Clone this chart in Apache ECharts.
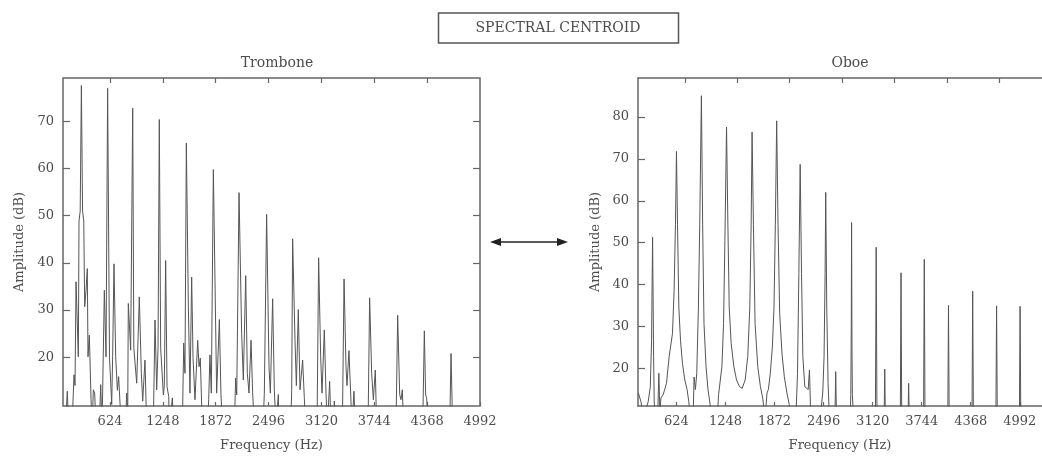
<!DOCTYPE html>
<html>
<head>
<meta charset="utf-8">
<script src="https://cdn.jsdelivr.net/npm/echarts@6/dist/echarts.min.js"></script>
<style>
  html, body { margin: 0; padding: 0; background: #fff; overflow: hidden; }
  #chart { width: 1042px; height: 457px; }
</style>
</head>
<body>
<div id="chart"></div>
<script>
// ---- data: [frequency Hz, amplitude dB] ----
const tromboneSpectrum = [
  [97,5],[120,12.8],[136,5],[175,5],[199,16.3],[211,14],[223,36],[250,20.1],[258,48.9],[272,51],[286,77.6],[300,51],[314,48.9],[325,30.7],[341,34.2],[356,38.8],[364,20.1],[380,24.7],[400,11],[413,5],[427,13.1],[443,12.4],[459,5],
  [498,5],[514,14.2],[530,5],[549,5],[557,34.2],[577,20.1],[596,77],[618,20],[644,10],[655,20.1],[671,39.8],[691,20.1],[711,13],[726,15.9],[742,10.3],[762,5],
  [805,5],[821,12.4],[833,8],[840,31.4],[868,21.5],[892,72.8],[905,22],[939,14.5],[970,32.8],[994,16.6],[1010,10.7],[1037,19.4],[1057,5],
  [1135,5],[1155,27.9],[1175,13.1],[1191,22],[1206,70.4],[1222,22],[1254,12],[1265,14],[1281,40.5],[1297,13.8],[1317,11.7],[1325,5],[1340,5],[1360,11.4],[1376,5],
  [1478,5],[1494,23],[1509,16.6],[1525,65.4],[1549,30.7],[1568,12.4],[1588,37],[1604,20],[1627,11],[1659,23.6],[1675,18],[1690,19.8],[1714,5],
  [1773,5],[1789,11],[1804,20.5],[1820,12.4],[1844,59.8],[1883,12.4],[1915,28],[1934,12],[1954,5],
  [2092,5],[2107,15.6],[2120,12],[2147,54.9],[2178,25],[2198,15.2],[2226,37.3],[2245,16.6],[2265,12.4],[2289,23.6],[2308,12.4],[2328,5],
  [2430,5],[2446,12.4],[2473,50.3],[2501,18],[2517,12.4],[2544,32.4],[2564,13],[2584,5],[2605,5],[2611,12.1],[2619,5],
  [2757,5],[2769,13],[2780,45.1],[2808,23.6],[2824,14],[2847,30.1],[2867,13.1],[2898,19.4],[2918,11.4],[2934,5],
  [3068,5],[3087,41.1],[3111,20.1],[3127,12.4],[3154,25.8],[3174,12.4],[3190,5],[3210,5],[3217,14.9],[3233,5],[3264,5],[3272,10.7],[3288,5],
  [3367,5],[3387,36.6],[3410,18],[3422,14],[3445,21.4],[3465,12.4],[3481,5],[3497,5],[3504,12.8],[3520,5],
  [3670,5],[3689,32.6],[3713,16.6],[3733,11],[3756,17.3],[3772,5],
  [4000,5],[4020,28.9],[4044,12.1],[4059,11],[4075,13.1],[4091,5],
  [4315,5],[4335,25.6],[4350,12],[4362,11.4],[4382,5],
  [4634,5],[4650,20.8],[4669,5]
];

const oboeSpectrum = [
  [139,14.1],[172,12],[206,8],[265,12.1],[291,15.6],[307,26.7],[320,51.3],[333,22.8],[341,11.7],[358,8],
  [384,8],[400,18.8],[413,9],[426,12.9],[455,13.7],[497,16.4],[531,22.8],[548,23.2],[573,28.3],[594,38.6],[611,54.4],[624,71.8],[637,54.4],[654,34.6],[675,26.7],[700,21.2],[730,17.2],[759,14.9],[780,12.1],[801,8],
  [835,8],[848,17.9],[865,14.9],[882,18.8],[903,34.6],[920,54.4],[941,85.1],[957,54.4],[974,30.7],[1000,20.4],[1025,14.9],[1050,11.7],[1067,8],
  [1143,8],[1160,13.7],[1177,14.1],[1202,20.4],[1223,30.7],[1240,50.5],[1261,77.6],[1278,54.4],[1295,34.6],[1320,25.9],[1354,20.4],[1388,17.2],[1426,15.6],[1460,15.2],
  [1498,17.2],[1531,22.8],[1557,34.6],[1574,54.4],[1586,76.4],[1603,54.4],[1624,30.7],[1658,20.4],[1692,15.6],[1721,12.9],[1751,8],
  [1776,14.1],[1793,14.9],[1818,18.8],[1844,25.1],[1865,34.6],[1882,54.4],[1899,79.1],[1916,54.4],[1937,33.1],[1966,23.6],[1996,18.0],[2029,14.1],[2059,11.3],[2080,8],
  [2143,8],[2164,18.8],[2181,42.6],[2198,68.7],[2215,42.6],[2232,22.8],[2257,15.6],[2274,15.2],[2300,14.9],[2316,19.6],[2333,8],
  [2451,8],[2485,14.1],[2502,22.8],[2515,42.6],[2523,62],[2536,34.6],[2553,16.4],[2570,8],
  [2640,8],[2650,19.2],[2660,8],
  [2835,8],[2842,13.7],[2848,30],[2852,54.8],[2857,25],[2862,13.7],[2870,13.5],[2878,8],
  [3155,8],[3165,48.9],[3175,8],
  [3266,8],[3274,19.8],[3282,8],
  [3472,8],[3481,42.8],[3490,8],
  [3570,8],[3578,16.4],[3586,8],
  [3768,8],[3777,46.0],[3786,8],
  [4076,8],[4085,35.0],[4094,8],
  [4384,8],[4393,38.4],[4402,8],
  [4688,8],[4697,34.9],[4706,8],
  [4987,8],[4996,34.8],[5005,8]
];

const freqTicks = [624, 1248, 1872, 2496, 3120, 3744, 4368, 4992];
const topFreqTicks = [624, 1248, 1872, 2496, 3120, 3744, 4368];
const tromboneAmpTicks = [20, 30, 40, 50, 60, 70];
const oboeAmpTicks = [20, 30, 40, 50, 60, 70, 80];

const FONT = 'DejaVu Serif';
const TXT = '#4d4d4d';
const AX = '#666';
const plain = function (v) { return String(v); };

function line(show) {
  return { show: show, onZero: false, lineStyle: { color: AX, width: 1.5 } };
}
function xAxisBottom(grid, min, max, showLine) {
  return {
    type: 'value', gridIndex: grid, position: 'bottom', min: min, max: max,
    axisLine: line(showLine),
    axisTick: { show: true, inside: true, length: 4, customValues: freqTicks, lineStyle: { color: AX, width: 1.2 } },
    axisLabel: { customValues: freqTicks, formatter: plain, margin: 9, color: TXT, fontFamily: FONT, fontSize: 13 },
    splitLine: { show: false },
    name: 'Frequency (Hz)', nameLocation: 'middle', nameGap: 33,
    nameTextStyle: { color: TXT, fontFamily: FONT, fontSize: 13 }
  };
}
function xAxisTop(grid, min, max, showLine) {
  return {
    type: 'value', gridIndex: grid, position: 'top', min: min, max: max,
    axisLine: line(showLine),
    axisTick: { show: true, inside: true, length: 5, customValues: topFreqTicks, lineStyle: { color: AX, width: 1.2 } },
    axisLabel: { show: false, customValues: topFreqTicks },
    splitLine: { show: false }
  };
}
function yAxisLeft(grid, min, max, ticks, gap, showLine) {
  return {
    type: 'value', gridIndex: grid, position: 'left', min: min, max: max,
    axisLine: line(showLine),
    axisTick: { show: true, inside: true, length: 7, customValues: ticks, lineStyle: { color: AX, width: 1.2 } },
    axisLabel: { customValues: ticks, formatter: plain, margin: 9, color: TXT, fontFamily: FONT, fontSize: 13 },
    splitLine: { show: false },
    name: 'Amplitude (dB)', nameLocation: 'middle', nameGap: gap,
    nameTextStyle: { color: TXT, fontFamily: FONT, fontSize: 13 }
  };
}
function yAxisRight(grid, min, max, ticks) {
  return {
    type: 'value', gridIndex: grid, position: 'right', min: min, max: max,
    axisLine: line(false),
    axisTick: { show: true, inside: true, length: 7, customValues: ticks, lineStyle: { color: AX, width: 1.2 } },
    axisLabel: { show: false, customValues: ticks },
    splitLine: { show: false }
  };
}

const chart = echarts.init(document.getElementById('chart'), null, { renderer: 'canvas' });
chart.setOption({
  animation: false,
  backgroundColor: '#fff',
  title: [
    { text: 'Trombone', left: 272, top: 51, textAlign: 'center',
      textStyle: { color: TXT, fontFamily: FONT, fontSize: 14, fontWeight: 'normal' } },
    { text: 'Oboe', left: 845, top: 51, textAlign: 'center',
      textStyle: { color: TXT, fontFamily: FONT, fontSize: 14, fontWeight: 'normal' } }
  ],
  grid: [
    { left: 63, top: 78, width: 417, height: 330, show: true, borderColor: AX, borderWidth: 1.5, backgroundColor: 'transparent' },
    { left: 638, top: 78, width: 406, height: 330, show: false }
  ],
  xAxis: [
    xAxisBottom(0, 69, 4992, false),
    xAxisTop(0, 69, 4992, false),
    xAxisBottom(1, 134.4, 5274.8, true),
    xAxisTop(1, 67.5, 4875, true)
  ],
  yAxis: [
    yAxisLeft(0, 9.67, 79.2, tromboneAmpTicks, 37, false),
    yAxisRight(0, 9.67, 79.2, tromboneAmpTicks),
    yAxisLeft(1, 10.98, 89.33, oboeAmpTicks, 36, true)
  ],
  series: [
    { type: 'line', xAxisIndex: 0, yAxisIndex: 0, data: tromboneSpectrum, showSymbol: false, clip: true,
      lineStyle: { color: '#555', width: 1 } },
    { type: 'line', xAxisIndex: 2, yAxisIndex: 2, data: oboeSpectrum, showSymbol: false, clip: true,
      lineStyle: { color: '#555', width: 1 } }
  ],
  graphic: [
    { type: 'rect', shape: { x: 438.5, y: 13, width: 240, height: 30 },
      style: { fill: '#fff', stroke: '#555', lineWidth: 1.5 } },
    { type: 'text', x: 558, y: 28,
      style: { text: 'SPECTRAL CENTROID', align: 'center', verticalAlign: 'middle',
               font: '14px "DejaVu Serif"', fill: TXT } },
    { type: 'line', shape: { x1: 498, y1: 242, x2: 560, y2: 242 },
      style: { stroke: '#222', lineWidth: 1.3 } },
    { type: 'polygon', shape: { points: [[490, 242], [501, 238], [501, 246]] },
      style: { fill: '#222' } },
    { type: 'polygon', shape: { points: [[568, 242], [557, 238], [557, 246]] },
      style: { fill: '#222' } }
  ]
});
</script>
</body>
</html>
